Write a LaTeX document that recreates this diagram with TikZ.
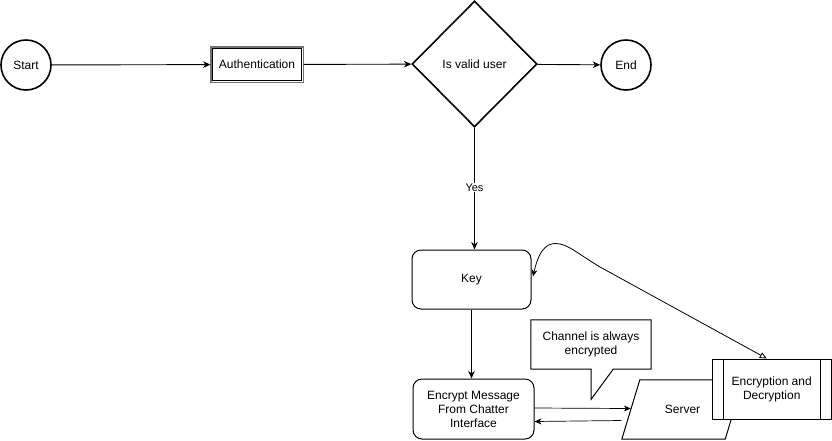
\documentclass[tikz,border=0pt]{standalone}
\usepackage{fontspec}
\setmainfont{Liberation Sans}
\usetikzlibrary{shapes.geometric,arrows.meta,calc}
\begin{document}
\begin{tikzpicture}[x=1pt,y=-1pt,
  every node/.style={font=\fontsize{12}{14}\selectfont, align=center, inner sep=0pt},
  base/.style={draw=black, line width=1pt, fill=white},
  term/.style={base, circle, minimum size=50, line width=1.6pt},
  procbox/.style={base, rectangle, minimum width=89, minimum height=32},
  decide/.style={base, diamond, minimum width=125, minimum height=126, line width=1.6pt},
  rbox/.style={base, rectangle, rounded corners=9pt},
  conn/.style={line width=0.9pt, -{Stealth[length=7.5pt,width=6.5pt]}},
  lbl/.style={fill=white, font=\fontsize{11}{13}\selectfont, inner sep=1pt}
]
\useasboundingbox (0,0) rectangle (832,440);

% top row
\node[term] (start) at (26,65) {Start};
\node[procbox] (auth) at (257,64.5) {Authentication};
\draw[draw=black!55, line width=1.4pt] ($(auth.north west)+(-1.2,-1.2)$) rectangle ($(auth.south east)+(1.2,1.2)$);
\node[decide] (valid) at (474.5,64) {Is valid user};
\node[term] (end) at (626,65) {End};

% lower nodes
\node[rbox, minimum width=119, minimum height=59] (key) at (471.5,279.5) {Key};
\node[rbox, minimum width=121, minimum height=60] (enc) at (473.5,409) {Encrypt Message\\From Chatter\\Interface};

% callout
\node[minimum width=120, minimum height=49] (callout) at (591,344.5) {Channel is always\\encrypted};
\draw[line width=1pt, fill=white] (callout.south west) -- (callout.north west) -- (callout.north east)
  -- (callout.south east) -- ++(-38,0) -- ++(-22,30) -- ++(0,-30) -- cycle;
\node at (callout.center) {Channel is always\\encrypted};

% server parallelogram
\node[minimum width=121, minimum height=59] (server) at (682.5,409.5) {};
\draw[line width=1pt, fill=white] (server.south west) -- ($(server.north west)+(18,0)$)
  -- (server.north east) -- ($(server.south east)+(-18,0)$) -- cycle;
\node at (server.center) {Server};

% encryption and decryption
\node[base, rectangle, minimum width=119.5, minimum height=60] (encdec) at (771.75,389) {Encryption and\\Decryption};
\draw[line width=1pt] ($(encdec.north west)+(11.5,0)$) -- ($(encdec.south west)+(11.5,0)$);
\draw[line width=1pt] ($(encdec.north east)+(-11.5,0)$) -- ($(encdec.south east)+(-11.5,0)$);

% coordinates for connector ends
\coordinate (srvIn) at ($(server.west)+(9,-1)$);
\coordinate (srvOut) at ($(server.west)+(-0.5,11)$);
\coordinate (encIn) at ($(enc.east)+(0,12.5)$);
\coordinate (encOut) at ($(enc.east)+(0,-1)$);
\coordinate (edTop) at ($(encdec.north)+(-5,0)$);

% connectors
\draw[conn, shorten >=1.5pt] (start) -- (auth);
\draw[conn, shorten <=1.5pt] (auth) -- (valid);
\draw[conn] (valid) -- (end);
\draw[conn] (valid.south) -- node[lbl, pos=0.49] {Yes} (valid.south |- key.north);
\draw[conn] (key.south) -- (key.south |- enc.north);
\draw[line width=0.7pt, -{Stealth[length=7pt,width=6pt]}] (encOut) -- (srvIn);
\draw[line width=0.7pt, -{Stealth[length=7pt,width=6pt]}] (srvOut) -- (encIn);
\draw[line width=0.8pt, {Stealth[length=7pt,width=6pt]}-{Triangle[open,length=7pt,width=6pt]}]
  ($(key.east)+(1.5,-3)$) .. controls (540,245) and (550,242) .. (560,244)
  .. controls (570,246) and (580,255) .. (600,267) -- (edTop);
\end{tikzpicture}
\end{document}
